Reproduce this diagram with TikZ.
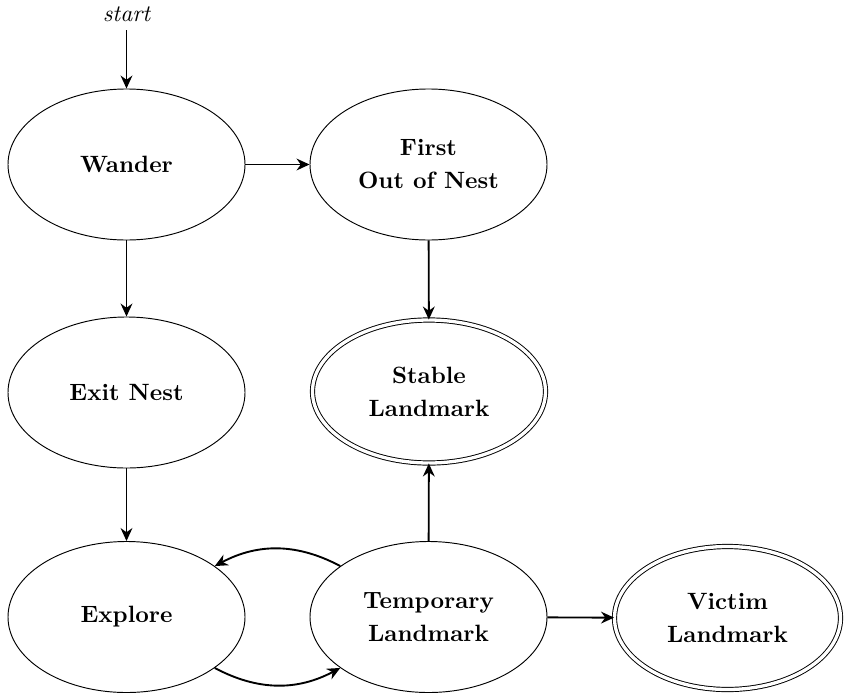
\documentclass[tikz,border=0pt]{standalone}
\usetikzlibrary{shapes.geometric,arrows.meta}
\begin{document}
\begin{tikzpicture}[x=0.424pt,y=-0.424pt,
  state/.style={ellipse,draw,line width=0.4pt,inner sep=0pt,minimum width=237\ux,minimum height=151\ux,font=\bfseries,align=center},
  accst/.style={ellipse,draw,line width=0.4pt,double,double distance=1.4pt,inner sep=0pt,minimum width=233\ux,minimum height=143\ux,font=\bfseries,align=center},
  trans/.style={-{Stealth[length=5.5pt,width=5pt]},line width=0.8pt}]
\def\ux{*0.424pt}
\useasboundingbox (0,0) rectangle (846,696);
\node (st) at (126.5,14) {\itshape start};
\coordinate (stc) at (126.5,30);
\node[state] (W) at (126.5,164.5) {Wander};
\node[state] (F) at (428.5,164.5) {First\\[2pt]Out of Nest};
\node[state] (E) at (126.5,392.5) {Exit Nest};
\node[accst] (S) at (429,391.5) {Stable\\[2pt]Landmark};
\node[state] (X) at (126.5,617) {Explore};
\node[state] (T) at (428.5,617) {Temporary\\[2pt]Landmark};
\node[accst,minimum width=226\ux] (V) at (727.5,618) {Victim\\[2pt]Landmark};
\draw[trans] (stc) -- (W);
\draw[trans] (W) -- (F);
\draw[trans] (W) -- (E);
\draw[trans] (F) -- (S);
\draw[trans] (E) -- (X);
\draw[trans] (T) -- (S);
\draw[trans] (T) -- (V);
\draw[trans] (T.150) to[bend right=28] (X.30);
\draw[trans] (X.-30) to[bend right=28] (T.-150);
\end{tikzpicture}
\end{document}
